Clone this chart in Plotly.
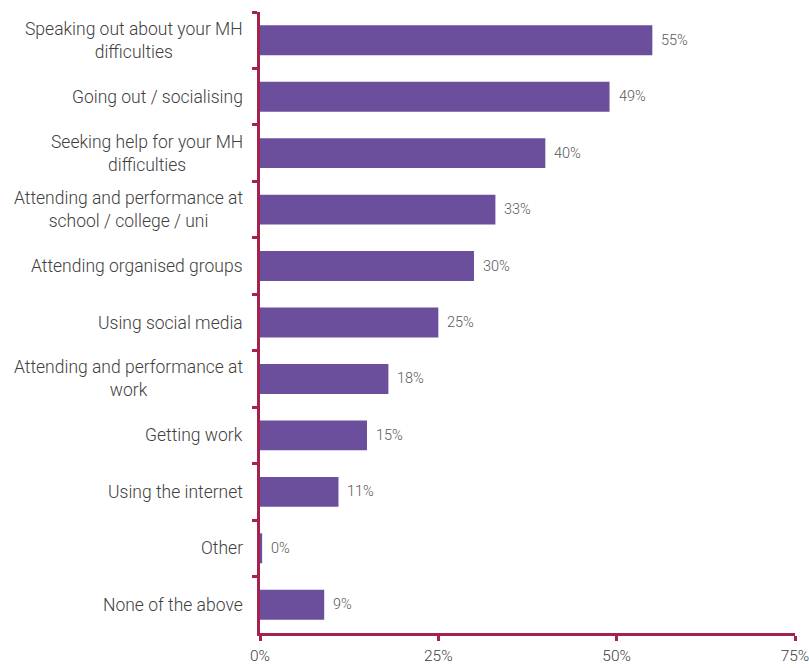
import plotly.graph_objects as go

# Survey categories (top to bottom) and share of respondents (%)
categories = [
    "Speaking out about your MH<br>difficulties",
    "Going out / socialising",
    "Seeking help for your MH<br>difficulties",
    "Attending and performance at<br>school / college / uni",
    "Attending organised groups",
    "Using social media",
    "Attending and performance at<br>work",
    "Getting work",
    "Using the internet",
    "Other",
    "None of the above",
]
values = [55, 49, 40, 33, 30, 25, 18, 15, 11, 0.3, 9]
x_ticks = [0, 25, 50, 75]
x_tick_labels = ["0%", "25%", "50%", "75%"]

BAR = "#6B4E9C"
AXIS = "#A3234C"
TEXT = "#404040"
FONT = "Roboto"

fig = go.Figure(
    go.Bar(
        x=values,
        y=categories,
        orientation="h",
        marker=dict(color=BAR, line=dict(width=0)),
        hoverinfo="skip",
    )
)

# Value labels just past the end of each bar
for cat, v in zip(categories, values):
    fig.add_annotation(
        x=v, xref="x", y=cat, yref="y",
        text=f"{v:.0f}%", showarrow=False,
        xanchor="left", yanchor="middle", xshift=7,
        font=dict(family=FONT, size=14.5, color="#595959", weight=300),
    )

# Category labels as centred multi-line text to the left of the axis
for cat in categories:
    fig.add_annotation(
        x=0, xref="paper", y=cat, yref="y",
        text=cat, showarrow=False,
        xanchor="right", yanchor="middle", align="center",
        xshift=-15,
        font=dict(family=FONT, size=17.5, color=TEXT, weight=300),
    )

fig.update_layout(
    width=809, height=668,
    margin=dict(l=260, r=14, t=12, b=35, autoexpand=False),
    plot_bgcolor="white", paper_bgcolor="white",
    bargap=0.47,
    showlegend=False,
    font=dict(family=FONT, color=TEXT),
)
fig.update_xaxes(
    range=[0, 75],
    tickvals=x_ticks, ticktext=x_tick_labels,
    showgrid=False, zeroline=False,
    showline=True, linecolor=AXIS, linewidth=2.5,
    ticks="outside", ticklen=5, tickwidth=2.5, tickcolor=AXIS,
    ticklabelstandoff=2,
    ticklabeloverflow="allow",
    tickfont=dict(family=FONT, size=15.5, color=TEXT, weight=300),
    automargin=False,
    fixedrange=True,
)
fig.update_yaxes(
    autorange="reversed",
    showticklabels=False,
    showgrid=False, zeroline=False,
    showline=True, linecolor=AXIS, linewidth=2.5,
    ticks="outside", ticklen=5, tickwidth=2.5, tickcolor=AXIS,
    tickson="boundaries",
    automargin=False,
    fixedrange=True,
)

fig.write_html("out.html")
